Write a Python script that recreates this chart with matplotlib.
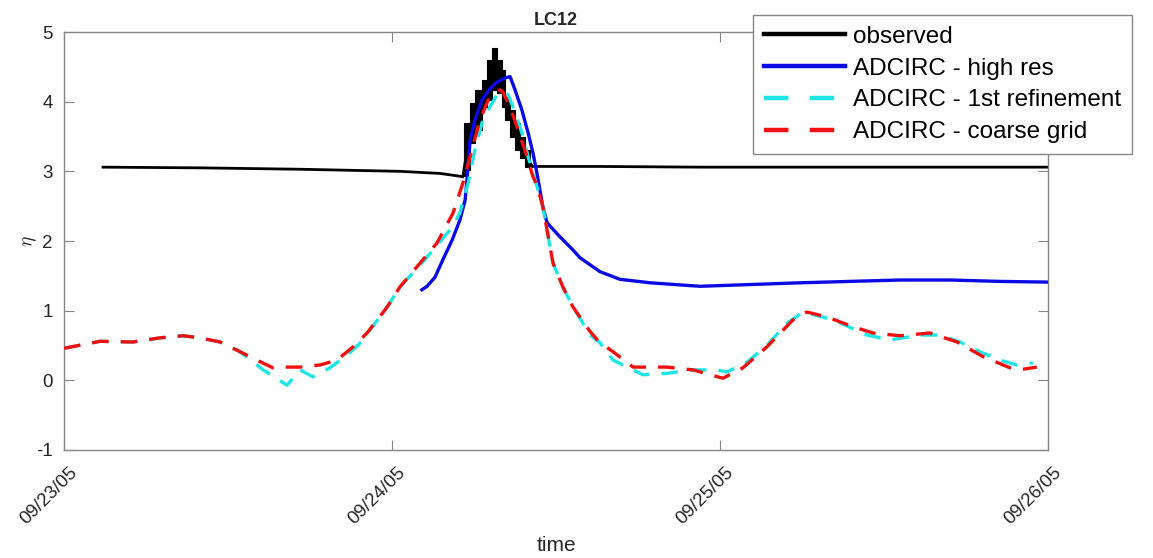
import datetime
import matplotlib
matplotlib.use("Agg")
import matplotlib.pyplot as plt
import matplotlib.dates as mdates
import matplotlib.transforms as mtransforms
from matplotlib.lines import Line2D

plt.rcParams["font.family"] = ["Liberation Sans", "DejaVu Sans"]
plt.rcParams["mathtext.fontset"] = "cm"
plt.rcParams["axes.unicode_minus"] = False

START = datetime.datetime(2005, 9, 23)

# Time is stored as days since 09/23/05 00:00, water level eta in metres.
obs_days = [0.119, 0.415, 0.720, 1.024, 1.146, 1.207, 1.216,
            1.230, 1.245, 1.264, 1.282, 1.297, 1.3125, 1.328, 1.340,
            1.352, 1.367, 1.383, 1.398, 1.413, 1.428, 1.451,
            1.634, 1.939, 2.244, 2.549, 2.854, 3.000]
obs_eta = [3.06, 3.05, 3.03, 3.00, 2.97, 2.93, 2.92,
           3.35, 3.70, 3.88, 4.12, 4.31, 4.47, 4.36, 4.19,
           3.90, 3.69, 3.50, 3.35, 3.18, 3.07, 3.07,
           3.07, 3.06, 3.06, 3.06, 3.06, 3.06]

# Envelope of the rapidly oscillating gauge record around the surge peak
band_days = [1.2195, 1.230, 1.245, 1.264, 1.282, 1.297, 1.3125, 1.328,
             1.340, 1.352, 1.367, 1.383, 1.398, 1.413, 1.428]
band_upper = [3.69, 3.69, 3.98, 4.17, 4.31, 4.60, 4.77, 4.60,
              4.46, 4.07, 3.88, 3.69, 3.50, 3.31, 3.09]
band_lower = [2.93, 3.02, 3.41, 3.59, 3.92, 4.02, 4.17, 4.12,
              3.92, 3.74, 3.50, 3.31, 3.19, 3.06, 3.06]

hires_days = [1.091, 1.107, 1.131, 1.155, 1.183, 1.207, 1.223, 1.229,
              1.238, 1.253, 1.274, 1.299, 1.320, 1.345, 1.360, 1.375,
              1.396, 1.415, 1.430, 1.442, 1.460, 1.473, 1.512, 1.552,
              1.573, 1.634, 1.695, 1.787, 1.939, 2.122, 2.244, 2.396,
              2.549, 2.701, 2.854, 3.000]
hires_eta = [1.30, 1.35, 1.48, 1.73, 2.01, 2.30, 2.59, 2.90,
             3.45, 3.74, 4.02, 4.19, 4.28, 4.34, 4.36, 4.17,
             3.88, 3.55, 3.26, 2.97, 2.49, 2.26, 2.06, 1.87,
             1.76, 1.56, 1.45, 1.40, 1.35, 1.38, 1.40, 1.42,
             1.44, 1.44, 1.42, 1.41]

refine_days = [0.000, 0.110, 0.210, 0.293, 0.363, 0.415, 0.476, 0.537,
               0.607, 0.680, 0.720, 0.759, 0.811, 0.863, 0.902, 0.985,
               1.024, 1.085, 1.125, 1.177, 1.207, 1.232, 1.253, 1.277,
               1.305, 1.323, 1.338, 1.354, 1.375, 1.396, 1.415, 1.436,
               1.460, 1.491, 1.521, 1.552, 1.604, 1.634, 1.674, 1.735,
               1.765, 1.838, 1.918, 1.991, 2.021, 2.082, 2.143, 2.204,
               2.253, 2.345, 2.448, 2.518, 2.610, 2.671, 2.732, 2.793,
               2.854, 2.905, 2.954]
refine_eta = [0.46, 0.56, 0.55, 0.61, 0.64, 0.61, 0.55, 0.41,
              0.15, -0.07, 0.15, 0.05, 0.18, 0.36, 0.53, 1.05,
              1.34, 1.65, 1.87, 2.16, 2.40, 2.83, 3.31, 3.74,
              3.98, 4.12, 4.14, 4.10, 3.85, 3.55, 3.21, 2.88,
              2.49, 1.68, 1.34, 1.05, 0.65, 0.54, 0.29, 0.15,
              0.08, 0.10, 0.15, 0.15, 0.12, 0.26, 0.50, 0.82,
              0.98, 0.87, 0.65, 0.58, 0.65, 0.65, 0.55, 0.41,
              0.29, 0.22, 0.25]

coarse_days = [0.000, 0.110, 0.210, 0.293, 0.363, 0.415, 0.476, 0.537,
               0.588, 0.637, 0.668, 0.720, 0.780, 0.832, 0.881, 0.924,
               0.985, 1.024, 1.085, 1.137, 1.186, 1.216, 1.244, 1.268,
               1.293, 1.314, 1.329, 1.338, 1.360, 1.381, 1.405, 1.430,
               1.442, 1.460, 1.491, 1.521, 1.552, 1.604, 1.634, 1.674,
               1.735, 1.838, 1.918, 1.970, 2.009, 2.070, 2.143, 2.223,
               2.265, 2.326, 2.405, 2.466, 2.549, 2.640, 2.723, 2.802,
               2.884, 2.924, 2.966]
coarse_eta = [0.46, 0.56, 0.55, 0.61, 0.64, 0.61, 0.55, 0.41,
              0.29, 0.18, 0.19, 0.19, 0.22, 0.29, 0.48, 0.68,
              1.05, 1.34, 1.68, 1.97, 2.40, 2.83, 3.31, 3.74,
              4.02, 4.12, 4.17, 4.14, 3.92, 3.64, 3.31, 2.92,
              2.80, 2.49, 1.68, 1.34, 1.05, 0.70, 0.54, 0.41,
              0.19, 0.19, 0.15, 0.08, 0.03, 0.18, 0.48, 0.87,
              0.98, 0.91, 0.77, 0.68, 0.64, 0.68, 0.55, 0.34,
              0.18, 0.16, 0.19]

series_labels = ["observed", "ADCIRC - high res",
                 "ADCIRC - 1st refinement", "ADCIRC - coarse grid"]
y_ticks = [-1, 0, 1, 2, 3, 4, 5]
x_tick_days = [0, 1, 2, 3]


def as_dates(days):
    return [START + datetime.timedelta(days=d) for d in days]


CYAN = "#1fe6e6"
RED = "#f01010"
BLUE = "#0a0ae6"
AXIS_GRAY = "#858585"
TEXT = "#262626"

fig = plt.figure(figsize=(11.53, 5.58), dpi=100)
ax = fig.add_axes([64 / 1153, 108 / 558, 984 / 1153, 418 / 558])

ax.fill_between(as_dates(band_days), band_lower, band_upper, step="mid",
                color="black", lw=0.8, edgecolor="black", zorder=2)
ax.plot(as_dates(obs_days), obs_eta, color="black", lw=2.0, zorder=2)
ax.plot(as_dates(hires_days), hires_eta, color=BLUE, lw=2.4, zorder=3)
ax.plot(as_dates(refine_days), refine_eta, color=CYAN, lw=2.4,
        dashes=(5.0, 3.6), zorder=4)
ax.plot(as_dates(coarse_days), coarse_eta, color=RED, lw=2.4,
        dashes=(5.0, 3.6), zorder=5)

ax.set_xlim(START, START + datetime.timedelta(days=3))
ax.set_ylim(-1, 5)
ax.set_yticks(y_ticks)
ax.set_xticks(as_dates(x_tick_days))
ax.xaxis.set_major_formatter(mdates.DateFormatter("%m/%d/%y"))

for s in ax.spines.values():
    s.set_color(AXIS_GRAY)
    s.set_linewidth(1.0)
ax.tick_params(direction="in", length=7, width=0.8, color=AXIS_GRAY,
               top=True, right=True, labelcolor=TEXT)
ax.tick_params(axis="y", labelsize=13.5, pad=8)
ax.tick_params(axis="x", labelsize=13.5, pad=10)
shift = mtransforms.ScaledTranslation(5 / 100, 0, fig.dpi_scale_trans)
for lab in ax.get_xticklabels():
    lab.set_rotation(45)
    lab.set_ha("right")
    lab.set_va("top")
    lab.set_rotation_mode("anchor")
    lab.set_transform(lab.get_transform() + shift)

ax.set_title("LC12", fontsize=13, fontweight="bold", color=TEXT, pad=5)
ax.set_xlabel("time", fontsize=15, color=TEXT, labelpad=6)
ax.set_ylabel(r"$\eta$", fontsize=14, color=TEXT, labelpad=-2)

handles = [
    Line2D([], [], color="black", lw=3.2),
    Line2D([], [], color=BLUE, lw=3.2),
    Line2D([], [], color=CYAN, lw=3.2, dashes=(5.5, 4.8)),
    Line2D([], [], color=RED, lw=3.2, dashes=(5.5, 4.8)),
]
leg = fig.legend(handles, series_labels, loc="upper left",
                 bbox_to_anchor=(753 / 1153, 1 - 15 / 558),
                 bbox_transform=fig.transFigure, fontsize=17.5,
                 handlelength=3.35, handletextpad=0.3, labelspacing=0.4,
                 borderpad=0.45, borderaxespad=0.0, fancybox=False,
                 framealpha=1.0, edgecolor=AXIS_GRAY)
leg.get_frame().set_linewidth(1.0)
for txt in leg.get_texts():
    txt.set_color("black")

fig.savefig("out.png", dpi=100, facecolor="white")
